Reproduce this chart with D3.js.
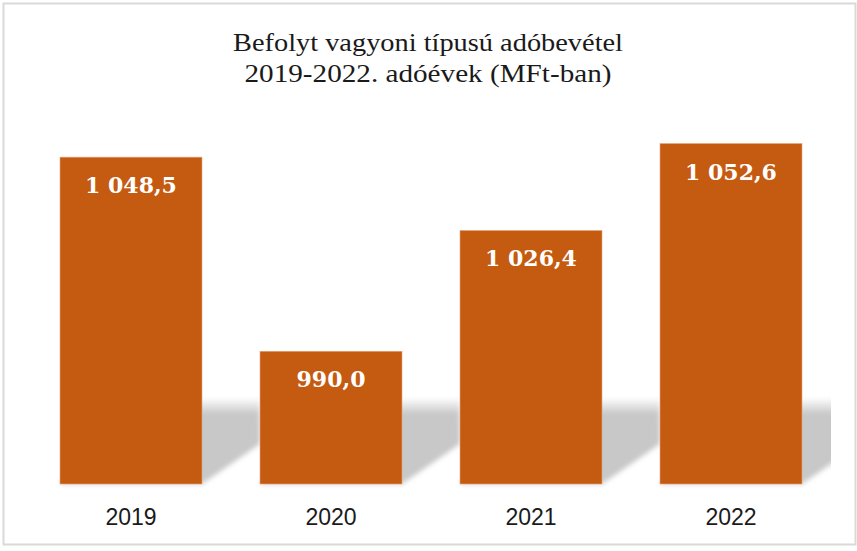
<!DOCTYPE html>
<html>
<head>
<meta charset="utf-8">
<script src="https://cdn.jsdelivr.net/npm/d3@7"></script>
<style>
  body { margin: 0; background: #fff; }
  .title { font-family: "Liberation Serif", serif; font-size: 25px; fill: #1a1a1a; }
  .bar-label { font-family: "DejaVu Serif", serif; font-weight: bold; font-size: 22px; fill: #fff; }
  .cat-label { font-family: "Liberation Sans", sans-serif; font-size: 23px; fill: #1a1a1a; }
</style>
</head>
<body>
<div id="chart"></div>
<script>
var years = ["2019", "2020", "2021", "2022"];
var values = [1048.5, 990.0, 1026.4, 1052.6];
var valueLabels = ["1 048,5", "990,0", "1 026,4", "1 052,6"];
var titleLines = ["Befolyt vagyoni típusú adóbevétel", "2019-2022. adóévek (MFt-ban)"];
var titleWidths = [390, 367];

var width = 857, height = 551;

var svg = d3.select("#chart")
    .append("svg")
    .attr("width", width)
    .attr("height", height);

// chart frame
svg.append("rect")
    .attr("x", 3.5).attr("y", 3.5)
    .attr("width", 852).attr("height", 541)
    .attr("fill", "#fff")
    .attr("stroke", "#d9d9d9")
    .attr("stroke-width", 2);

var x = d3.scaleBand()
    .domain(years)
    .range([31, 831])
    .paddingInner(0.29)
    .paddingOuter(0.145);

var y = d3.scaleLinear()
    .domain([950, 1060])
    .range([484, 119]);

var defs = svg.append("defs");

var lg = defs.append("linearGradient")
    .attr("id", "shadegrad")
    .attr("gradientUnits", "userSpaceOnUse")
    .attr("x1", 0).attr("x2", 0)
    .attr("y1", 398).attr("y2", 414);
lg.append("stop").attr("offset", "0%").style("stop-color", "#c8c8c8").style("stop-opacity", 0);
lg.append("stop").attr("offset", "100%").style("stop-color", "#c8c8c8").style("stop-opacity", 1);

defs.append("filter")
    .attr("id", "blur")
    .attr("x", "-10%").attr("y", "-10%")
    .attr("width", "120%").attr("height", "120%")
    .append("feGaussianBlur")
    .attr("stdDeviation", 2.5);

defs.append("clipPath")
    .attr("id", "plotclip")
    .append("rect")
    .attr("x", 31).attr("y", 100)
    .attr("width", 800).attr("height", 390);

// perspective shadows behind the bars
var dx = 58, dy = 40, shadeTop = 398;
svg.append("g")
    .attr("clip-path", "url(#plotclip)")
    .selectAll("path")
    .data(years)
    .enter()
    .append("path")
    .attr("d", function(d) {
        var x0 = x(d), x1 = x(d) + x.bandwidth(), b = y(950);
        return "M" + x0 + "," + b + " L" + x1 + "," + b +
            " L" + (x1 + dx) + "," + (b - dy) +
            " L" + (x1 + dx) + "," + shadeTop +
            " L" + (x0 + dx) + "," + shadeTop + " Z";
    })
    .attr("fill", "url(#shadegrad)")
    .style("filter", "url(#blur)");

svg.selectAll(".bar")
    .data(values)
    .enter()
    .append("rect")
    .attr("class", "bar")
    .attr("x", function(d, i) { return x(years[i]); })
    .attr("y", function(d) { return y(d); })
    .attr("width", x.bandwidth())
    .attr("height", function(d) { return y(950) - y(d); })
    .attr("fill", "#c55a11")
    .attr("stroke", "#e3a57a")
    .attr("stroke-width", 0.6);

svg.selectAll(".bar-label")
    .data(values)
    .enter()
    .append("text")
    .attr("class", "bar-label")
    .attr("text-anchor", "middle")
    .attr("x", function(d, i) { return x(years[i]) + x.bandwidth() / 2; })
    .attr("y", function(d) { return y(d) + 36; })
    .text(function(d, i) { return valueLabels[i]; });

svg.selectAll(".cat-label")
    .data(years)
    .enter()
    .append("text")
    .attr("class", "cat-label")
    .attr("text-anchor", "middle")
    .attr("x", function(d) { return x(d) + x.bandwidth() / 2; })
    .attr("y", 525)
    .text(function(d) { return d; });

svg.selectAll(".title")
    .data(titleLines)
    .enter()
    .append("text")
    .attr("class", "title")
    .attr("text-anchor", "middle")
    .attr("x", 428)
    .attr("y", function(d, i) { return 51 + i * 31; })
    .attr("textLength", function(d, i) { return titleWidths[i]; })
    .attr("lengthAdjust", "spacingAndGlyphs")
    .text(function(d) { return d; });
</script>
</body>
</html>
